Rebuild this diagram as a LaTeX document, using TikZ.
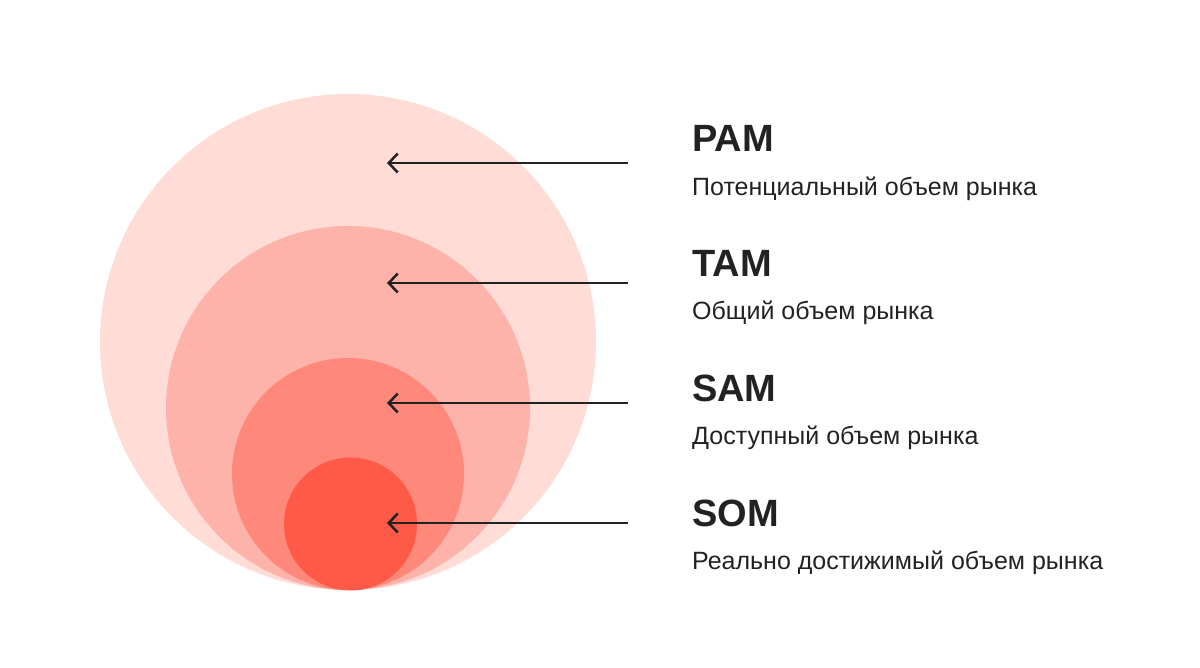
\documentclass[tikz,border=0pt]{standalone}
\usepackage{fontspec}
\setmainfont{Liberation Sans}
\usepackage{xcolor}
\usetikzlibrary{positioning, arrows.meta}
\definecolor{pamfill}{HTML}{FFDCD6}
\definecolor{tamfill}{HTML}{FDB2AA}
\definecolor{samfill}{HTML}{FE887A}
\definecolor{somfill}{HTML}{FF5A48}
\definecolor{ink}{HTML}{222222}
\tikzstyle{market}   = [circle, draw=none, inner sep=0pt]
\tikzstyle{title}    = [anchor=base west, inner sep=0pt, text=ink, font=\fontsize{38}{40}\selectfont\bfseries]
\tikzstyle{subtitle} = [anchor=base west, inner sep=0pt, text=ink, font=\fontsize{25}{28}\selectfont]
\tikzstyle{pointer}  = [draw=ink, line width=2.5pt, -{Straight Barb[length=9pt, width=19pt, line width=2.5pt]}]

\begin{document}
\begin{tikzpicture}[x=1pt, y=-1pt]
            \useasboundingbox (0,0) rectangle (1200,668);

            \node[market, fill=pamfill, minimum size=496pt] (pam) at (348,342)   {};
            \node[market, fill=tamfill, minimum size=364pt] (tam) at (348,408)   {};
            \node[market, fill=samfill, minimum size=232pt] (sam) at (348,474)   {};
            \node[market, fill=somfill, minimum size=133pt] (som) at (350.5,524) {};

            \node[title]    (pamTitle) at (692,152) {PAM};
            \node[subtitle] (pamText)  at (692,196) {Потенциальный объем рынка};
            \node[title]    (tamTitle) at (692,277) {TAM};
            \node[subtitle] (tamText)  at (692,320) {Общий объем рынка};
            \node[title]    (samTitle) at (692,401) {SAM};
            \node[subtitle] (samText)  at (692,444) {Доступный объем рынка};
            \node[title]    (somTitle) at (692,526) {SOM};
            \node[subtitle] (somText)  at (692,569) {Реально достижимый объем рынка};

            \coordinate (pamFrom) at (628,163);
            \coordinate (pamTo)   at (387,163);
            \coordinate (tamFrom) at (628,283);
            \coordinate (tamTo)   at (387,283);
            \coordinate (samFrom) at (628,403);
            \coordinate (samTo)   at (387,403);
            \coordinate (somFrom) at (628,523);
            \coordinate (somTo)   at (387,523);

            \draw[pointer] (pamFrom) -- (pamTo);
            \draw[pointer] (tamFrom) -- (tamTo);
            \draw[pointer] (samFrom) -- (samTo);
            \draw[pointer] (somFrom) -- (somTo);
        \end{tikzpicture}
\end{document}
